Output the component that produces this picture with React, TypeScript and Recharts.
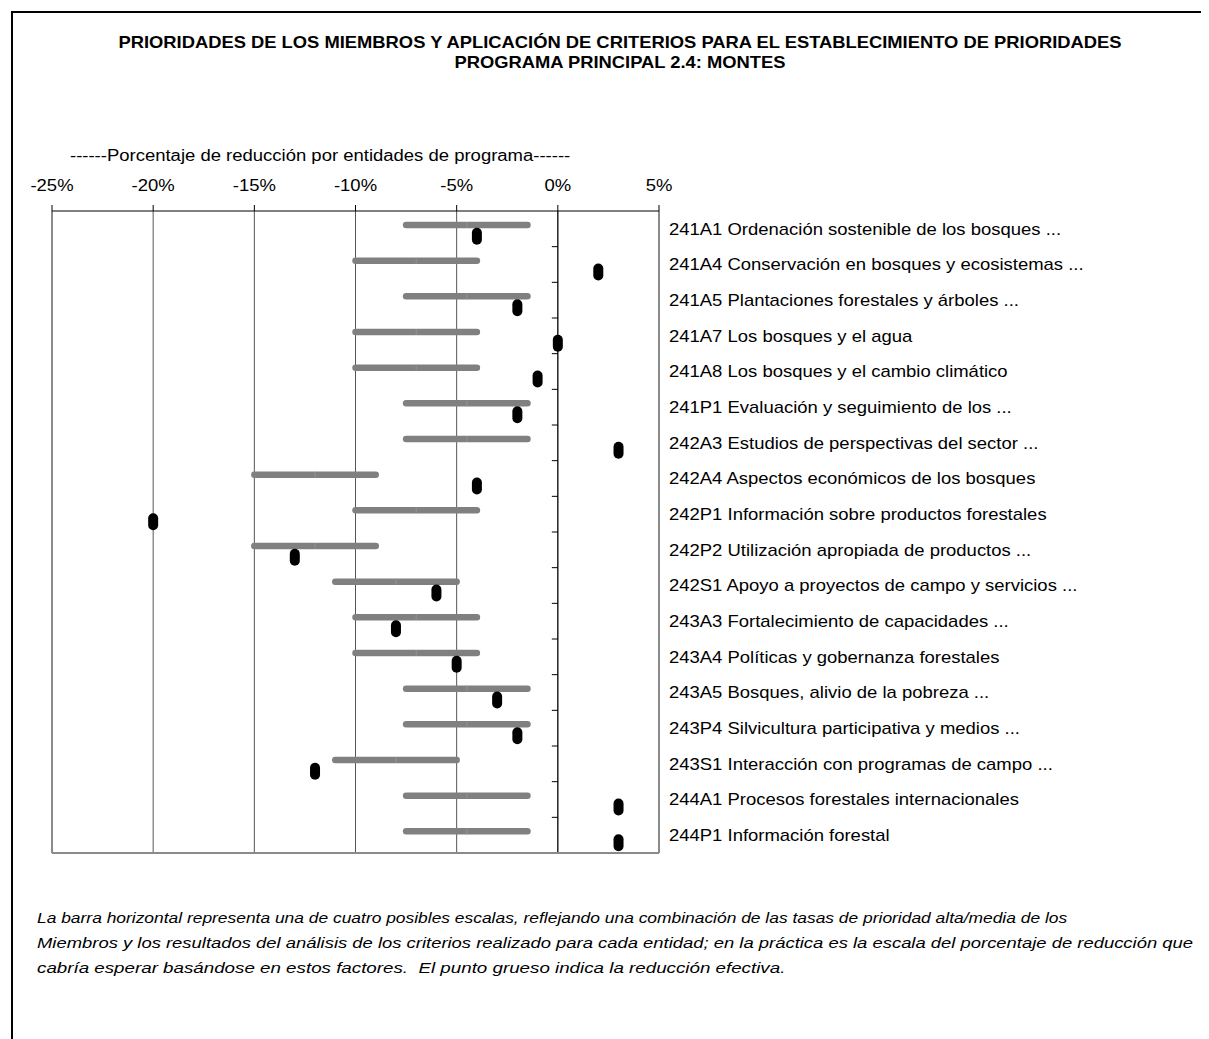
import { ComposedChart, Bar, Scatter, XAxis, YAxis, CartesianGrid, ReferenceLine } from "recharts";

const FONT = '"Liberation Sans", Arial, Helvetica, sans-serif';
// the source renders its text a bit wider than Arial
const STRETCH = 1.155;

const categories = [
    "241A1 Ordenación sostenible de los bosques ...",
    "241A4 Conservación en bosques y ecosistemas ...",
    "241A5 Plantaciones forestales y árboles ...",
    "241A7 Los bosques y el agua",
    "241A8 Los bosques y el cambio climático",
    "241P1 Evaluación y seguimiento de los ...",
    "242A3 Estudios de perspectivas del sector ...",
    "242A4 Aspectos económicos de los bosques",
    "242P1 Información sobre productos forestales",
    "242P2 Utilización apropiada de productos ...",
    "242S1 Apoyo a proyectos de campo y servicios ...",
    "243A3 Fortalecimiento de capacidades ...",
    "243A4 Políticas y gobernanza forestales",
    "243A5 Bosques, alivio de la pobreza ...",
    "243P4 Silvicultura participativa y medios ...",
    "243S1 Interacción con programas de campo ...",
    "244A1 Procesos forestales internacionales",
    "244P1 Información forestal",
];

// scale band (low / high end of expected reduction, %)
const rangeLow = [-7.5, -10, -7.5, -10, -10, -7.5, -7.5, -15, -10, -15, -11, -10, -10, -7.5, -7.5, -11, -7.5, -7.5];
const rangeHigh = [-1.5, -4, -1.5, -4, -4, -1.5, -1.5, -9, -4, -9, -5, -4, -4, -1.5, -1.5, -5, -1.5, -1.5];

// effective reduction (%)
const actual = [-4, 2, -2, 0, -1, -2, 3, -4, -20, -13, -6, -8, -5, -3, -2, -12, 3, 3];

const xTicks = [-25, -20, -15, -10, -5, 0, 5];

const noteLines = [
    "La barra horizontal representa una de cuatro posibles escalas, reflejando una combinación de las tasas de prioridad alta/media de los",
    "Miembros y los resultados del análisis de los criterios realizado para cada entidad; en la práctica es la escala del porcentaje de reducción que",
    "cabría esperar basándose en estos factores.\u00a0 El punto grueso indica la reducción efectiva.",
];
const noteStretch = [1.16, 1.228, 1.25];

const rows = categories.map((name, i) => ({
    name,
    range: [rangeLow[i], rangeHigh[i]],
    actual: actual[i],
}));

function RangeShape(props: any) {
    const { x, y, width, height } = props;
    const x1 = Math.min(x, x + width);
    const x2 = Math.max(x, x + width);
    const cy = y + height / 2 - 4;
    const mid = (x1 + x2) / 2;
    return (
        <g>
            <line x1={x1} x2={x2} y1={cy} y2={cy} stroke="#808080" strokeWidth={6.5} strokeLinecap="round" />
            <line x1={mid} x2={mid} y1={cy - 3} y2={cy + 3} stroke="#939393" strokeWidth={1} />
        </g>
    );
}

function Marker(props: any) {
    const { cx, cy } = props;
    return <rect x={cx - 5} y={cy - 1} width={10} height={17} rx={5} ry={5} fill="#000" />;
}

function ZeroAxis(props: any) {
    const { x1, y1, y2 } = props;
    const top = Math.min(y1, y2);
    const bottom = Math.max(y1, y2);
    const step = (bottom - top) / categories.length;
    return (
        <g>
            <line x1={x1} x2={x1} y1={top} y2={bottom} stroke="#000" strokeWidth={1} />
            {categories.map((_, i) => (
                <line key={i} x1={x1 - 6} x2={x1} y1={top + step * (i + 1)} y2={top + step * (i + 1)} stroke="#000" strokeWidth={1} />
            ))}
        </g>
    );
}

function GridLine(props: any) {
    const left = props.x;
    const right = props.x + props.width;
    const edge = Math.abs(props.x1 - left) < 1 || Math.abs(props.x1 - right) < 1;
    return (
        <line
            key={`v-${props.index}-${props.x1}`}
            x1={props.x1}
            x2={props.x2}
            y1={props.y1}
            y2={props.y2}
            stroke={edge ? "#8a8a8a" : "#555"}
            strokeWidth={edge ? 2 : 1}
        />
    );
}

function TopTick(props: any) {
    const { x, y, payload } = props;
    return (
        <text
            transform={`translate(${x},${y}) scale(${STRETCH},1)`}
            textAnchor="middle"
            fontSize={16}
            fontFamily={FONT}
            fill="#000"
        >
            {`${payload.value}%`}
        </text>
    );
}

function LabelTick(props: any) {
    const { x, y, payload } = props;
    return (
        <text
            transform={`translate(${x},${y}) scale(${STRETCH},1)`}
            dy="0.36em"
            textAnchor="start"
            fontSize={16}
            fontFamily={FONT}
            fill="#000"
        >
            {payload.value}
        </text>
    );
}

export default function App() {
    return (
        <div style={{ position: "relative", width: 1201, height: 1031, fontFamily: FONT }}>
            <style>{`html,body{overflow:hidden}`}</style>
            <div
                style={{
                    position: "absolute",
                    left: 3,
                    top: 3,
                    right: -20,
                    bottom: -20,
                    borderTop: "2px solid #000",
                    borderLeft: "2px solid #000",
                    overflow: "hidden",
                }}
            >
                <div
                    style={{
                        position: "absolute",
                        left: -2,
                        top: 20,
                        width: 1218,
                        textAlign: "center",
                        fontWeight: "bold",
                        fontSize: 15.9,
                        lineHeight: "20px",
                        color: "#000",
                        whiteSpace: "nowrap",
                        transform: `scaleX(${STRETCH})`,
                        transformOrigin: "609px 0",
                    }}
                >
                    <div>PRIORIDADES DE LOS MIEMBROS Y APLICACIÓN DE CRITERIOS PARA EL ESTABLECIMIENTO DE PRIORIDADES</div>
                    <div>PROGRAMA PRINCIPAL 2.4: MONTES</div>
                </div>
            </div>

            <div
                style={{
                    position: "absolute",
                    left: 62,
                    top: 138,
                    fontSize: 16,
                    lineHeight: "20px",
                    color: "#000",
                    whiteSpace: "nowrap",
                    transform: `scaleX(${STRETCH})`,
                    transformOrigin: "0 0",
                }}
            >
                ------Porcentaje de reducción por entidades de programa------
            </div>

            <div style={{ position: "absolute", left: 0, top: 142 }}>
                <ComposedChart
                    width={1151}
                    height={705}
                    data={rows}
                    layout="vertical"
                    barCategoryGap={0}
                    margin={{ top: 21, right: 0, bottom: 0, left: 44 }}
                >
                    <CartesianGrid horizontal={false} vertical={GridLine as any} />
                    <XAxis
                        type="number"
                        orientation="top"
                        domain={[-25, 5]}
                        ticks={xTicks}
                        interval={0}
                        height={40}
                        axisLine={{ stroke: "#000", strokeWidth: 1 }}
                        tickLine={{ stroke: "#000" }}
                        tickSize={6}
                        tickMargin={14}
                        tick={<TopTick />}
                    />
                    <XAxis
                        xAxisId="bottom"
                        type="number"
                        orientation="bottom"
                        domain={[-25, 5]}
                        height={2}
                        tick={false}
                        tickLine={false}
                        axisLine={{ stroke: "#8a8a8a", strokeWidth: 2 }}
                    />
                    <YAxis
                        type="category"
                        dataKey="name"
                        orientation="right"
                        width={500}
                        axisLine={false}
                        tickLine={false}
                        tickSize={0}
                        tickMargin={10}
                        interval={0}
                        tick={<LabelTick />}
                    />
                    <ReferenceLine x={0} shape={ZeroAxis as any} />
                    <Bar dataKey="range" shape={RangeShape as any} isAnimationActive={false} />
                    <Scatter dataKey="actual" shape={Marker as any} isAnimationActive={false} />
                </ComposedChart>
            </div>

            <div
                style={{
                    position: "absolute",
                    left: 29,
                    top: 897,
                    fontSize: 15,
                    lineHeight: "25px",
                    fontStyle: "italic",
                    color: "#000",
                    whiteSpace: "nowrap",
                }}
            >
                {noteLines.map((line, i) => (
                    <div key={i} style={{ transform: `scaleX(${noteStretch[i]})`, transformOrigin: "0 0" }}>
                        {line}
                    </div>
                ))}
            </div>
        </div>
    );
}
